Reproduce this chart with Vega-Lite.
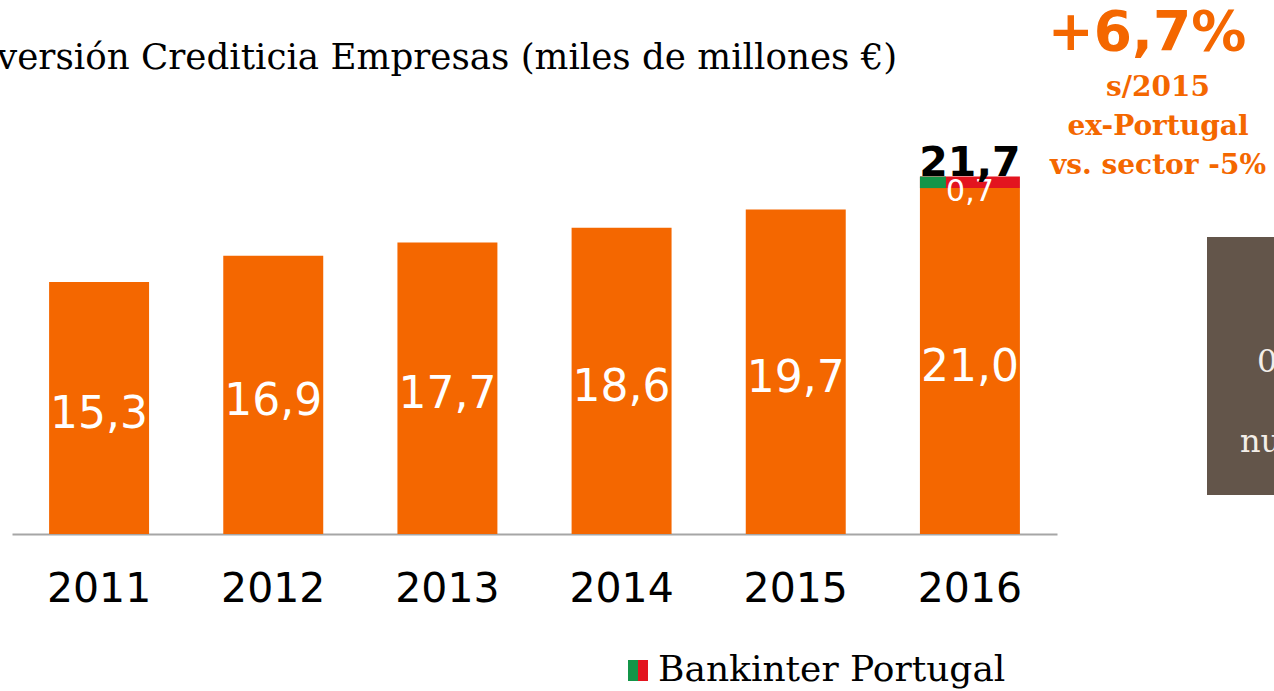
{
  "$schema": "https://vega.github.io/schema/vega-lite/v6.json",
  "width": 1274,
  "height": 691,
  "autosize": {"type": "none"},
  "padding": 0,
  "background": "#ffffff",
  "config": {
    "view": {"stroke": null},
    "locale": {"number": {"decimal": ",", "thousands": ".", "grouping": [3], "currency": ["", " €"]}}
  },
  "title": {
    "text": "Inversión Crediticia Empresas (miles de millones €)",
    "anchor": "start",
    "frame": "group",
    "orient": "top",
    "offset": 0,
    "dx": -40,
    "dy": 105,
    "baseline": "alphabetic",
    "font": "DejaVu Serif",
    "fontSize": 35.7,
    "fontWeight": "normal",
    "color": "#000000"
  },
  "datasets": {
    "inversion": [
      {"anio": "2011", "serie": "Empresas", "valor": 15.3},
      {"anio": "2012", "serie": "Empresas", "valor": 16.9},
      {"anio": "2013", "serie": "Empresas", "valor": 17.7},
      {"anio": "2014", "serie": "Empresas", "valor": 18.6},
      {"anio": "2015", "serie": "Empresas", "valor": 19.7},
      {"anio": "2016", "serie": "Empresas", "valor": 21.0},
      {"anio": "2016", "serie": "Bankinter Portugal", "valor": 0.7}
    ],
    "titular": [{"nota": "+6,7%"}],
    "notas": [{"nota": "s/2015"}, {"nota": "ex-Portugal"}, {"nota": "vs. sector -5%"}],
    "caja": [{"elemento": "caja"}],
    "textoCaja": [{"texto": "0"}, {"texto": "nu"}],
    "leyenda": [
      {"serie": "Bankinter Portugal", "parte": "verde"},
      {"serie": "Bankinter Portugal", "parte": "rojo"}
    ]
  },
  "resolve": {"scale": {"x": "independent", "y": "independent"}},
  "layer": [
    {
      "data": {"name": "inversion"},
      "transform": [
        {"stack": "valor", "groupby": ["anio"], "sort": [{"field": "serie", "order": "descending"}], "as": ["v0", "v1"]}
      ],
      "encoding": {
        "x": {
          "field": "anio", "type": "ordinal",
          "scale": {"type": "band", "range": [12, 1057], "paddingInner": 0.426, "paddingOuter": 0.213},
          "axis": {
            "title": null, "orient": "bottom", "offset": -157, "domainColor": "#a6a6a6", "domainWidth": 2,
            "ticks": false, "tickSize": 0, "labelPadding": 35, "labelFontSize": 41,
            "labelFont": "DejaVu Sans", "labelColor": "#000000", "labelAngle": 0, "grid": false
          }
        },
        "y": {"field": "v1", "type": "quantitative", "scale": {"domain": [0, 32.42], "range": [534, 0], "nice": false, "zero": false}, "axis": null}
      },
      "layer": [
        {
          "transform": [{"filter": "datum.serie == 'Empresas'"}],
          "mark": {"type": "bar", "color": "#f46700"},
          "encoding": {"y2": {"field": "v0"}}
        },
        {
          "transform": [{"filter": "datum.serie == 'Bankinter Portugal'"}],
          "mark": {"type": "bar", "color": "#e3141f"},
          "encoding": {"y2": {"field": "v0"}}
        },
        {
          "transform": [{"filter": "datum.serie == 'Bankinter Portugal'"}],
          "mark": {"type": "rect", "color": "#139548"},
          "encoding": {
            "x": {"field": "anio", "type": "ordinal", "bandPosition": 0},
            "x2": {"field": "anio", "bandPosition": 0.26},
            "y2": {"field": "v0"}
          }
        },
        {
          "transform": [{"filter": "datum.serie == 'Bankinter Portugal'"}],
          "mark": {"type": "text", "color": "#ffffff", "font": "DejaVu Sans", "fontSize": 30, "baseline": "top", "align": "center"},
          "encoding": {"text": {"field": "valor", "type": "quantitative", "format": ".1f"}}
        },
        {
          "transform": [{"filter": "datum.serie == 'Bankinter Portugal'"}],
          "mark": {"type": "text", "color": "#000000", "font": "DejaVu Sans", "fontSize": 41, "fontWeight": "bold", "baseline": "alphabetic", "align": "center", "dy": -1},
          "encoding": {"text": {"field": "v1", "type": "quantitative", "format": ".1f"}}
        }
      ]
    },
    {
      "data": {"name": "inversion"},
      "transform": [{"filter": "datum.serie == 'Empresas'"}],
      "mark": {"type": "text", "color": "#ffffff", "font": "DejaVu Sans", "fontSize": 44, "baseline": "alphabetic", "align": "center", "dy": 20},
      "encoding": {
        "x": {"field": "anio", "type": "ordinal", "scale": {"type": "band", "range": [12, 1057], "paddingInner": 0.426, "paddingOuter": 0.213}, "axis": null},
        "y": {"field": "valor", "type": "quantitative", "scale": {"domain": [0, 64.84], "range": [534, 0], "nice": false, "zero": false}, "axis": null},
        "text": {"field": "valor", "type": "quantitative", "format": ".1f"},
        "fontWeight": {"condition": {"test": "datum.anio == '2016'", "value": "bold"}, "value": "normal"}
      }
    },
    {
      "data": {"name": "titular"},
      "mark": {"type": "text", "color": "#f46700", "font": "DejaVu Sans", "fontSize": 55, "fontWeight": "bold", "baseline": "alphabetic", "align": "center"},
      "encoding": {
        "x": {"field": "nota", "type": "nominal", "scale": {"type": "point", "range": [1147, 1147], "padding": 0}, "axis": null},
        "y": {"field": "nota", "type": "nominal", "scale": {"type": "point", "range": [50, 50], "padding": 0}, "axis": null},
        "text": {"field": "nota"}
      }
    },
    {
      "data": {"name": "notas"},
      "mark": {"type": "text", "color": "#f46700", "font": "DejaVu Serif", "fontSize": 28, "fontWeight": "bold", "baseline": "alphabetic", "align": "center"},
      "encoding": {
        "x": {"field": "nota", "type": "nominal", "scale": {"type": "point", "range": [1158, 1158], "padding": 0}, "axis": null},
        "y": {"field": "nota", "type": "nominal", "sort": null, "scale": {"type": "point", "domain": ["s/2015", "ex-Portugal", "vs. sector -5%"], "range": [96, 174], "padding": 0}, "axis": null},
        "text": {"field": "nota"}
      }
    },
    {
      "data": {"name": "caja"},
      "mark": {"type": "rect", "color": "#63554a"},
      "encoding": {
        "x": {"field": "elemento", "type": "nominal", "scale": {"type": "band", "range": [1207, 1420], "paddingInner": 0, "paddingOuter": 0}, "axis": null},
        "y": {"field": "elemento", "type": "nominal", "scale": {"type": "band", "range": [237, 495], "paddingInner": 0, "paddingOuter": 0}, "axis": null}
      }
    },
    {
      "data": {"name": "textoCaja"},
      "mark": {"type": "text", "color": "#f3eee8", "font": "DejaVu Serif", "fontSize": 32, "baseline": "alphabetic", "align": "left"},
      "encoding": {
        "x": {"field": "texto", "type": "nominal", "sort": null, "scale": {"type": "point", "domain": ["0", "nu"], "range": [1257, 1240], "padding": 0}, "axis": null},
        "y": {"field": "texto", "type": "nominal", "sort": null, "scale": {"type": "point", "domain": ["0", "nu"], "range": [372, 452], "padding": 0}, "axis": null},
        "text": {"field": "texto"}
      }
    },
    {
      "data": {"name": "leyenda"},
      "mark": {"type": "rect"},
      "encoding": {
        "x": {"field": "parte", "type": "nominal", "sort": null, "scale": {"type": "band", "domain": ["verde", "rojo"], "range": [628, 648], "paddingInner": 0, "paddingOuter": 0}, "axis": null},
        "y": {"field": "serie", "type": "nominal", "scale": {"type": "band", "range": [660, 681], "paddingInner": 0, "paddingOuter": 0}, "axis": null},
        "color": {"field": "parte", "type": "nominal", "scale": {"domain": ["verde", "rojo"], "range": ["#139548", "#e3141f"]}, "legend": null}
      }
    },
    {
      "data": {"name": "leyenda"},
      "transform": [{"filter": "datum.parte == 'verde'"}],
      "mark": {"type": "text", "color": "#000000", "font": "DejaVu Serif", "fontSize": 36, "baseline": "alphabetic", "align": "left"},
      "encoding": {
        "x": {"field": "serie", "type": "nominal", "scale": {"type": "point", "range": [658, 658], "padding": 0}, "axis": null},
        "y": {"field": "serie", "type": "nominal", "scale": {"type": "point", "range": [681, 681], "padding": 0}, "axis": null},
        "text": {"field": "serie"}
      }
    }
  ]
}
